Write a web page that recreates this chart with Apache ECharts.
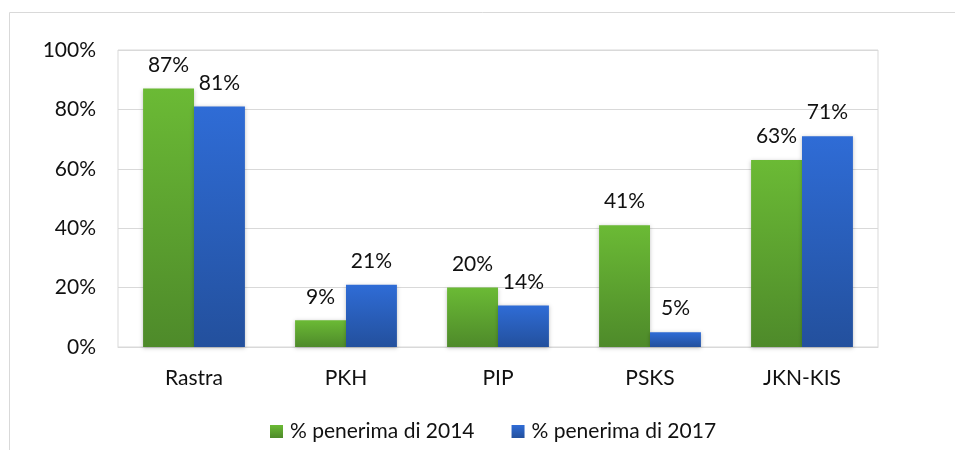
<!DOCTYPE html>
<html><head><meta charset="utf-8">
<script src="https://cdn.jsdelivr.net/npm/echarts@6/dist/echarts.min.js"></script>
<style>html,body{margin:0;padding:0;background:#fff}#c{width:955px;height:450px}</style>
</head><body><div id="c"></div>
<script>
const categories = ['Rastra', 'PKH', 'PIP', 'PSKS', 'JKN-KIS'];
const series2014 = [87, 9, 20, 41, 63];
const series2017 = [81, 21, 14, 5, 71];
const yTicks = [0, 20, 40, 60, 80, 100];
const seriesNames = ['% penerima di 2014', '% penerima di 2017'];

const font = 'Lato, "Open Sans", sans-serif';
const fs = 21;
function grad(a, b) {
  return new echarts.graphic.LinearGradient(0, 0, 0, 1, [{offset: 0, color: a}, {offset: 1, color: b}]);
}
const chart = echarts.init(document.getElementById('c'));
const labelCfg = {show: true, position: 'top', distance: 13, formatter: p => p.value + '%', fontFamily: font, fontSize: fs, color: '#111'};
chart.setOption({
  animation: false,
  graphic: [{type: 'rect', shape: {x: 9.5, y: 12.5, width: 960, height: 460}, style: {fill: 'none', stroke: '#d9d9d9', lineWidth: 1}, silent: true}],
  grid: {left: 118, right: 77, top: 50, bottom: 103, show: true, borderColor: '#d9d9d9', borderWidth: 1},
  legend: {bottom: 3, left: 265, itemWidth: 13, itemHeight: 13, itemGap: 37, icon: 'rect',
    textStyle: {fontFamily: font, fontSize: fs, color: '#111', padding: [0, 0, 0, 2]}, data: seriesNames},
  xAxis: {type: 'category', data: categories,
    axisLine: {lineStyle: {color: '#d9d9d9'}}, axisTick: {show: false},
    axisLabel: {fontFamily: font, fontSize: fs, color: '#111', margin: 21}},
  yAxis: {type: 'value', min: yTicks[0], max: yTicks[yTicks.length - 1], interval: 20,
    axisLine: {show: false}, axisTick: {show: false},
    splitLine: {lineStyle: {color: '#d9d9d9'}},
    axisLabel: {fontFamily: font, fontSize: fs, color: '#111', margin: 22, formatter: v => v + '%'}},
  series: [
    {name: seriesNames[0], type: 'bar', data: series2014, barGap: '0%', barCategoryGap: '33%',
      itemStyle: {color: grad('#6bba35', '#4e8a2a'), shadowBlur: 4, shadowColor: 'rgba(0,0,0,0.25)', shadowOffsetY: 1},
      label: labelCfg},
    {name: seriesNames[1], type: 'bar', data: series2017,
      itemStyle: {color: grad('#2f6cd6', '#23509d'), shadowBlur: 4, shadowColor: 'rgba(0,0,0,0.25)', shadowOffsetY: 1},
      label: labelCfg}
  ]
});
</script></body></html>
